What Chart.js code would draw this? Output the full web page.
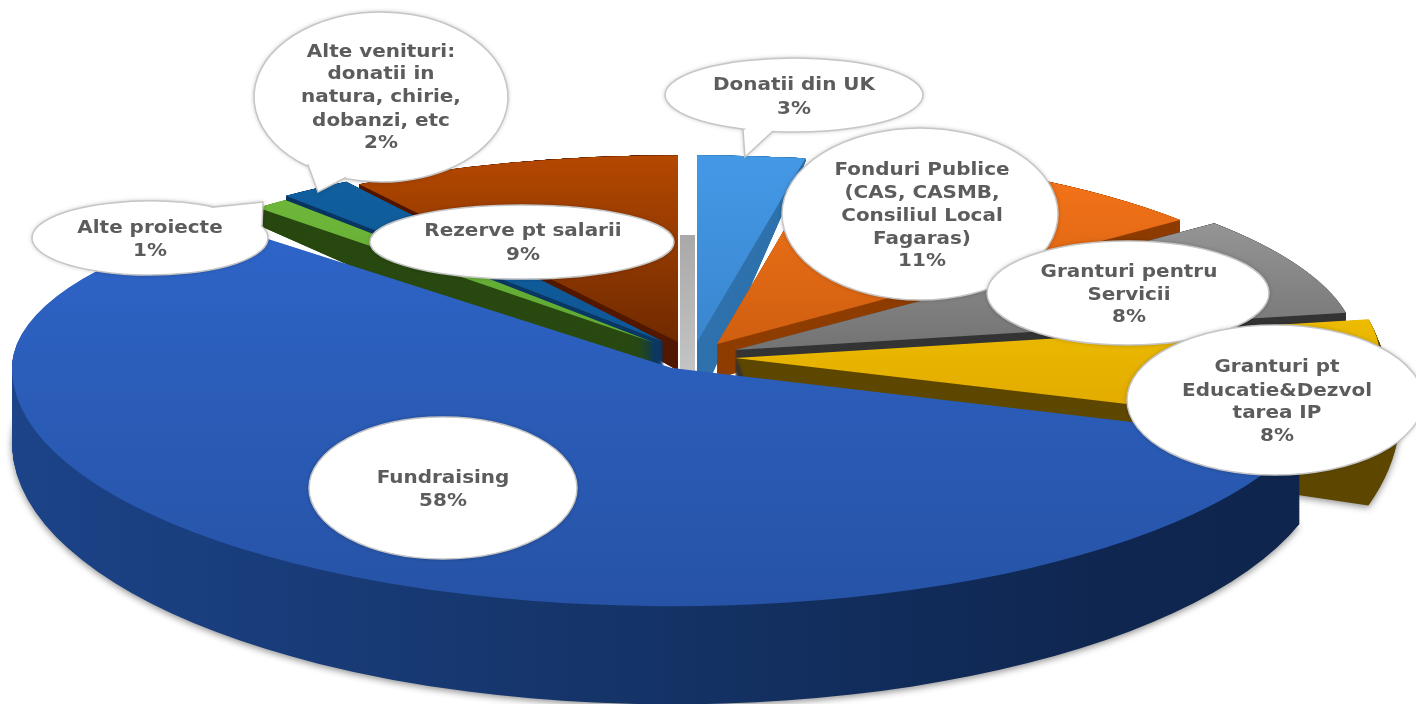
<!DOCTYPE html>
<html>
<head>
<meta charset="utf-8">
<style>
  html, body { margin: 0; padding: 0; background: #fff; }
  canvas { display: block; }
</style>
<script src="https://cdn.jsdelivr.net/npm/chart.js@4"></script>
</head>
<body>
<canvas id="pie" width="1416" height="704"></canvas>
<script>
// DATA
const categories = ['Donatii din UK', 'Fonduri Publice', 'Granturi pentru Servicii', 'Granturi pt Educatie&Dezvoltarea IP', 'Fundraising', 'Alte proiecte', 'Alte venituri', 'Rezerve pt salarii'];
const values = [3, 11, 8, 8, 58, 1, 2, 9];
const labelLines = [
  ['Donatii din UK'],
  ['Fonduri Publice', '(CAS, CASMB,', 'Consiliul Local', 'Fagaras)'],
  ['Granturi pentru', 'Servicii'],
  ['Granturi pt', 'Educatie&Dezvol', 'tarea IP'],
  ['Fundraising'],
  ['Alte proiecte'],
  ['Alte venituri:', 'donatii in', 'natura, chirie,', 'dobanzi, etc'],
  ['Rezerve pt salarii']
];

// SLICE LOOK
const topColors = [['#4499e6', '#3a86cf'], ['#f9761a', '#cf5f10'], ['#a8a8a8', '#737373'], ['#ffdc00', '#d08c00'], ['#3068cf', '#2653a6'], ['#72bb3c', '#5fa832'], ['#10609f', '#0f5796'], ['#b44800', '#702a00']];
const wallColors = ['#2f72ad', '#8f3e00', '#353535', '#5e4800', '#1a3f80', '#2a4a12', '#0d3a66', '#541a00'];
const centre = { x: 700, y: 345 };
const shiftX = [-3, 17, 35, 35, -28, -45, -36, -22];
const shiftY = [-3, -1, 5, 13, 23, -2, -3, -3];
const radiusPx = [578, 601, 622, 645, 660, 580, 593, 595];
const tiltBack = [0.323, 0.324, 0.32, 0.32, 0.30, 0.32, 0.32, 0.314];
const tiltFront = 0.361;
const depthY0 = [150, 150, 150, 150, -400, 150, 150, 150];
const depth = [0.35, 0.18, 0.15, 0.27, 0.0975, 0.3, 0.15, 0.15];
const depthX = [0, 0, 0, 20, 0, 0, 0, 0];
const depthSteps = 110;
const drawOrder = [7, 0, 6, 5, 1, 2, 3, 4];

// CALLOUTS
const bubbles = [
  { x: 794, y: 95, rx: 129, ry: 37, tx: 794, ty: [85, 109], tail: [772, 132, 745, 157, 743, 130] },
  { x: 920, y: 214, rx: 138, ry: 86, tx: 922, ty: [170, 193, 216, 239, 261] },
  { x: 1128, y: 293, rx: 141, ry: 52, tx: 1129, ty: [272, 295, 317] },
  { x: 1275, y: 400, rx: 148, ry: 75, tx: 1277, ty: [367, 391, 413, 436] },
  { x: 443, y: 488, rx: 134, ry: 71, tx: 443, ty: [478, 501] },
  { x: 150, y: 238, rx: 118, ry: 37, tx: 150, ty: [228, 251], tail: [214, 207, 263, 202, 262, 226] },
  { x: 381, y: 97, rx: 127, ry: 85, tx: 381, ty: [52, 74, 97, 121, 143], tail: [345, 178, 318, 192, 308, 165] },
  { x: 522, y: 242, rx: 152, ry: 37, tx: 523, ty: [231, 255] }
];

function drawSliceLayer(ctx, arc, i, t, fill) {
  const R = arc.outerRadius;
  const sx = radiusPx[i] / R;
  const px = centre.x + shiftX[i] + depthX[i] * t;
  const py = centre.y + shiftY[i];
  const el = Object.create(arc);
  el.options = Object.assign({}, arc.options, { backgroundColor: fill, borderWidth: 0 });

  const half = (k, clipTop) => {
    ctx.save();
    ctx.translate(0, depthY0[i]);
    ctx.scale(1, 1 + depth[i] * t);
    ctx.translate(0, -depthY0[i]);
    ctx.translate(px, py);
    ctx.scale(sx, k * radiusPx[i] / R);
    ctx.translate(-arc.x, -arc.y);
    if (clipTop !== undefined) {
      ctx.beginPath();
      if (clipTop) ctx.rect(arc.x - 3 * R, arc.y - 3 * R, 6 * R, 3 * R + 0.6);
      else ctx.rect(arc.x - 3 * R, arc.y, 6 * R, 3 * R);
      ctx.clip();
    }
    el.draw(ctx);
    ctx.restore();
  };

  const front = arc.endAngle > 0 && arc.startAngle < Math.PI;
  if (front) {
    half(tiltFront, false);
    half(tiltBack[i], true);
  } else {
    half(tiltBack[i]);
  }
}

const pie3d = {
  id: 'pie3d',
  beforeDatasetsDraw(chart) {
    const ctx = chart.ctx;
    const arcs = chart.getDatasetMeta(0).data;

    // strip seen through the gap behind the pulled out slices
    const strip = ctx.createLinearGradient(0, 235, 0, 372);
    strip.addColorStop(0, '#a9a9a9');
    strip.addColorStop(1, '#c4c4c4');
    ctx.fillStyle = strip;
    ctx.fillRect(680, 235, 15, 137);

    drawOrder.forEach(i => {
      const arc = arcs[i];
      const R = arc.outerRadius;
      const front = arc.endAngle > 0 && arc.startAngle < Math.PI;

      let wall = wallColors[i];
      if (i === 4) {
        wall = ctx.createLinearGradient(12, 0, 1300, 0);
        wall.addColorStop(0, '#2b5fb4');
        wall.addColorStop(0.12, '#24509c');
        wall.addColorStop(0.3, '#1b4184');
        wall.addColorStop(0.5, '#15356a');
        wall.addColorStop(0.72, '#0f2650');
        wall.addColorStop(1, '#0e2347');
      }

      for (let s = depthSteps; s >= 1; s--) {
        ctx.save();
        if (s === depthSteps && (i === 4 || i === 3)) {
          ctx.shadowColor = 'rgba(0,0,0,0.45)';
          ctx.shadowBlur = 7;
          ctx.shadowOffsetY = 2;
        }
        drawSliceLayer(ctx, arc, i, s / depthSteps, wall);
        ctx.restore();
      }

      const grad = ctx.createLinearGradient(0, arc.y - R, 0, front ? arc.y + R : arc.y);
      grad.addColorStop(0, topColors[i][0]);
      grad.addColorStop(1, topColors[i][1]);
      drawSliceLayer(ctx, arc, i, 0, grad);
    });
    return false;
  },
  afterDraw(chart) {
    const ctx = chart.ctx;
    bubbles.forEach((b, i) => {
      ctx.save();
      ctx.beginPath();
      if (b.tail) {
        const a1 = Math.atan2((b.tail[1] - b.y) / b.ry, (b.tail[0] - b.x) / b.rx);
        const a2 = Math.atan2((b.tail[5] - b.y) / b.ry, (b.tail[4] - b.x) / b.rx);
        ctx.ellipse(b.x, b.y, b.rx, b.ry, 0, a2, a1);
        ctx.lineTo(b.tail[0], b.tail[1]);
        ctx.lineTo(b.tail[2], b.tail[3]);
        ctx.lineTo(b.tail[4], b.tail[5]);
      } else {
        ctx.ellipse(b.x, b.y, b.rx, b.ry, 0, 0, Math.PI * 2);
      }
      ctx.closePath();
      ctx.fillStyle = '#fff';
      ctx.shadowColor = 'rgba(0,0,0,0.3)';
      ctx.shadowBlur = 4;
      ctx.fill();
      ctx.shadowColor = 'transparent';
      ctx.strokeStyle = '#c6c6c6';
      ctx.lineWidth = 1.5;
      ctx.stroke();

      // labels come out wider than the font in the picture
      ctx.fillStyle = '#5c5c5c';
      ctx.font = 'bold 17.5px "DejaVu Sans"';
      ctx.textAlign = 'center';
      ctx.textBaseline = 'middle';
      const lines = labelLines[i].concat(values[i] + '%');
      lines.forEach((line, n) => {
        ctx.save();
        ctx.translate(b.tx, b.ty[n]);
        ctx.scale(1.14, 1);
        ctx.fillText(line, 0, 0);
        ctx.restore();
      });
      ctx.restore();
    });
  }
};

new Chart(document.getElementById('pie'), {
  type: 'pie',
  data: {
    labels: categories,
    datasets: [{
      data: values,
      backgroundColor: topColors.map(c => c[0]),
      borderWidth: 0
    }]
  },
  options: {
    responsive: false,
    animation: false,
    events: [],
    plugins: { legend: { display: false }, tooltip: { enabled: false } }
  },
  plugins: [pie3d]
});
</script>
</body>
</html>
